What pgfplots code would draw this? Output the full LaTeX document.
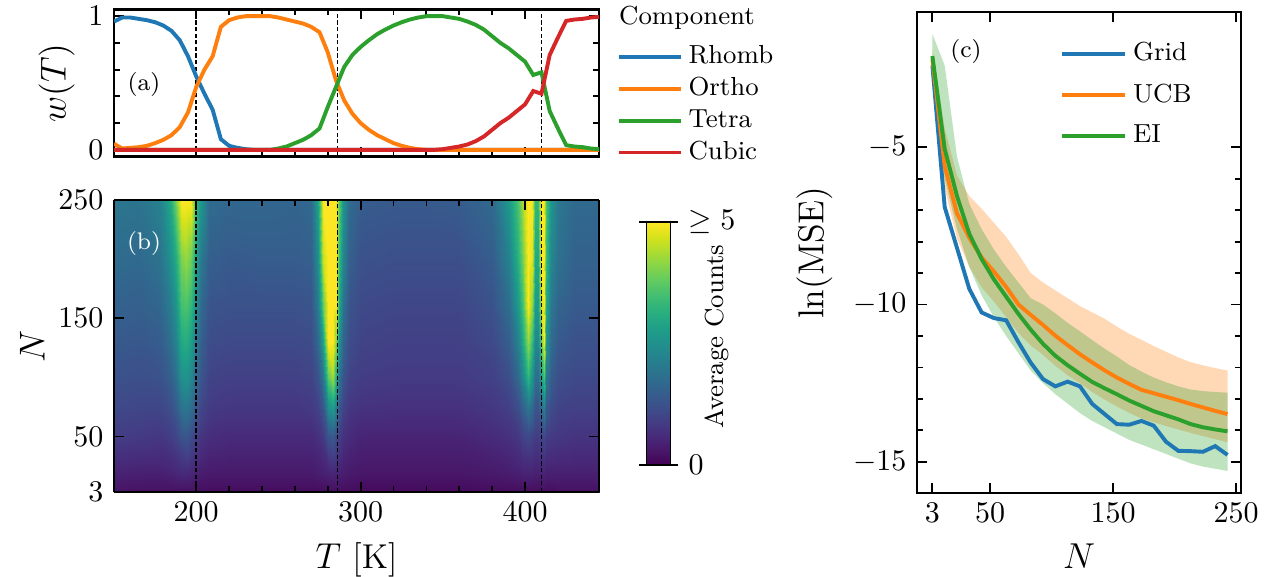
\documentclass[border=0pt]{standalone}
\usepackage{pgfplots}
\pgfplotsset{compat=1.18}
\usepackage{pgfplotstable}

\definecolor{tabblue}{HTML}{1F77B4}
\definecolor{taborange}{HTML}{FF7F0E}
\definecolor{tabgreen}{HTML}{2CA02C}
\definecolor{tabred}{HTML}{D62728}

% phase weights w(T)
\pgfplotstableread{
T rh or te cu
150 0.96 0.045 0 0
155 0.99 0.01 0 0
160 0.99 0.015 0 0
165 0.98 0.02 0 0
170 0.97 0.03 0 0
175 0.955 0.05 0 0
180 0.93 0.075 0 0
185 0.89 0.11 0 0
190 0.82 0.17 0 0
195 0.70 0.28 0 0
200 0.55 0.47 0 0
205 0.42 0.60 0 0
210 0.30 0.70 0 0
215 0.08 0.92 0 0
220 0.03 0.97 0 0
225 0.015 0.99 0 0
230 0.005 1.0 0 0
235 0 1.0 0 0
240 0 1.0 0 0
245 0 1.0 0 0
250 0 0.99 0.01 0
255 0 0.975 0.025 0
260 0 0.96 0.05 0
265 0 0.945 0.075 0
270 0 0.92 0.11 0
275 0 0.88 0.16 0
280 0 0.73 0.32 0
285 0 0.52 0.47 0
290 0 0.37 0.62 0
295 0 0.27 0.71 0
300 0 0.20 0.77 0
305 0 0.15 0.82 0
310 0 0.11 0.865 0
315 0 0.08 0.90 0
320 0 0.05 0.93 0
325 0 0.03 0.955 0
330 0 0.015 0.975 0
335 0 0.005 0.99 0
340 0 0 1.0 0
345 0 0 1.0 0
350 0 0 1.0 0.005
355 0 0 0.99 0.015
360 0 0 0.98 0.025
365 0 0 0.96 0.04
370 0 0 0.935 0.065
375 0 0 0.90 0.10
380 0 0 0.85 0.15
385 0 0 0.80 0.20
390 0 0 0.76 0.24
395 0 0 0.71 0.29
400 0 0 0.66 0.34
405 0 0 0.56 0.44
410 0 0 0.58 0.42
415 0 0 0.29 0.71
420 0 0 0.16 0.84
425 0 0 0.035 0.965
430 0 0 0.025 0.975
435 0 0 0.02 0.98
440 0 0 0.01 0.99
445 0 0 0.005 0.995
}\weights

% ln(MSE) vs N, means
\pgfplotstableread{
N grid ucb ei
3 -2.4 -2.2 -2.1
13 -6.9 -5.6 -5.05
23 -8.2 -7.1 -6.55
33 -9.5 -7.88 -7.75
43 -10.25 -8.5 -8.55
53 -10.43 -8.95 -9.2
63 -10.5 -9.44 -9.75
73 -11.2 -10.0 -10.3
83 -11.85 -10.33 -10.8
93 -12.37 -10.65 -11.25
103 -12.6 -10.99 -11.63
113 -12.45 -11.29 -11.93
123 -12.6 -11.58 -12.2
133 -13.16 -11.84 -12.46
143 -13.48 -12.09 -12.66
153 -13.8 -12.32 -12.85
163 -13.82 -12.52 -13.05
173 -13.7 -12.71 -13.22
183 -13.85 -12.82 -13.39
193 -14.36 -12.93 -13.52
203 -14.65 -13.04 -13.65
213 -14.66 -13.16 -13.8
223 -14.68 -13.27 -13.9
233 -14.5 -13.38 -13.97
243 -14.78 -13.48 -14.03
}\mse

% bands: upper edge forward, lower edge back
\pgfplotstableread{
N y
3 -1.9
13 -4.4
23 -5.9
33 -6.55
43 -6.95
53 -7.4
63 -7.85
73 -8.4
83 -9.0
93 -9.3
103 -9.55
113 -9.8
123 -10.05
133 -10.25
143 -10.45
153 -10.7
163 -10.93
173 -11.12
183 -11.32
193 -11.5
203 -11.68
213 -11.83
223 -11.93
233 -12.02
243 -12.1
243 -14.38
233 -14.28
223 -14.18
213 -14.08
203 -13.97
193 -13.86
183 -13.74
173 -13.62
163 -13.44
153 -13.24
143 -13.02
133 -12.78
123 -12.5
113 -12.25
103 -11.95
93 -11.6
83 -11.3
73 -10.9
63 -10.4
53 -9.9
43 -9.45
33 -8.8
23 -7.9
13 -6.3
3 -2.5
}\ucbband

\pgfplotstableread{
N y
3 -1.4
13 -2.4
23 -5.3
33 -6.8
43 -7.6
53 -8.25
63 -8.8
73 -9.3
83 -9.8
93 -10.0
103 -10.28
113 -10.58
123 -10.85
133 -11.13
143 -11.4
153 -11.65
163 -11.92
173 -12.13
183 -12.32
193 -12.47
203 -12.6
213 -12.7
223 -12.75
233 -12.78
243 -12.8
243 -15.29
233 -15.22
223 -15.15
213 -15.05
203 -14.9
193 -14.75
183 -14.6
173 -14.45
163 -14.3
153 -14.1
143 -13.9
133 -13.7
123 -13.45
113 -13.15
103 -12.85
93 -12.5
83 -12.1
73 -11.55
63 -11.0
53 -10.4
43 -9.7
33 -8.8
23 -7.6
13 -6.0
3 -2.6
}\eiband

\pgfplotsset{
  panel/.style={
    scale only axis,
    axis line style={line width=0.7pt},
    every tick/.style={black, line width=0.6pt},
    tick align=inside,
    major tick length=3.3pt,
    minor tick length=1.9pt,
    tick label style={font=\fontsize{10}{12}\selectfont},
    label style={font=\fontsize{11.5}{13}\selectfont},
    legend cell align=left,
  },
  dline/.style={black, line width=0.5pt, dash pattern=on 1.4pt off 0.8pt, forget plot},
}

\begin{document}
\begin{tikzpicture}
\useasboundingbox (0,0) rectangle (427pt,-192.33pt);

% (a) component weights
\begin{axis}[panel, at={(38pt,-3.17pt)}, anchor=north west,
  width=161.67pt, height=49pt,
  xmin=150, xmax=445, ymin=-0.05, ymax=1.05,
  xtick={200,300,400}, xticklabels={}, minor x tick num=4,
  ytick={0,1}, minor ytick={0.2,0.4,0.6,0.8},
  ylabel={$w(T)$}, ylabel shift=-2.3pt,
  legend style={draw=none, fill=none, at={(1.035,0.80)}, anchor=north west,
    font=\fontsize{8.7}{10}\selectfont, row sep=-0.9pt, inner sep=0pt},
  legend image code/.code={\draw[#1] (0pt,0pt) -- (20.7pt,0pt);},
]
\addplot[dline] coordinates {(200,-0.05) (200,1.05)};
\addplot[dline] coordinates {(286,-0.05) (286,1.05)};
\addplot[dline] coordinates {(410,-0.05) (410,1.05)};
\addplot[tabblue, line width=1.3pt] table[x=T,y=rh] {\weights};
\addlegendentry{Rhomb}
\addplot[taborange, line width=1.3pt] table[x=T,y=or] {\weights};
\addlegendentry{Ortho}
\addplot[tabgreen, line width=1.3pt] table[x=T,y=te] {\weights};
\addlegendentry{Tetra}
\addplot[tabred, line width=1.3pt] table[x=T,y=cu] {\weights};
\addlegendentry{Cubic}
\end{axis}

% (b) average counts heatmap
\begin{axis}[panel, at={(38pt,-66.67pt)}, anchor=north west,
  width=161.67pt, height=97.33pt,
  view={0}{90},
  xmin=150, xmax=445, ymin=3, ymax=250,
  xtick={200,300,400}, minor x tick num=4,
  ytick={3,50,150,250},
  xlabel={$T$ [K]}, ylabel={$N$}, ylabel shift=-2.3pt,
  axis on top,
  colormap/viridis,
  point meta min=0, point meta max=5,
  colorbar,
  colorbar style={
    scale only axis, width=8pt, height=81pt,
    at={(parent axis.east)}, anchor=west, xshift=7.3pt, yshift=0.8pt,
    ytick={0,5}, yticklabels={$0$,$\geq 5$},
    tick align=outside, major tick length=2.5pt,
    axis line style={line width=0.6pt},
    every tick/.style={black, line width=0.6pt},
    tick label style={font=\fontsize{10}{12}\selectfont},
    ylabel={Average Counts},
    ylabel style={font=\fontsize{8.7}{10}\selectfont,
      at={(axis description cs:2.92,0.53)}, anchor=center},
  },
]
\addplot3[surf, shader=interp, mesh/rows=9, mesh/ordering=y varies, point meta=z] coordinates {
(150,3,0.25) (150,20,0.5) (150,50,0.9) (150,75,1.1) (150,100,1.25) (150,130,1.4) (150,160,1.55) (150,200,1.75) (150,250,1.95)
(165,3,0.2) (165,20,0.45) (165,50,0.85) (165,75,1.05) (165,100,1.2) (165,130,1.35) (165,160,1.5) (165,200,1.7) (165,250,1.9)
(178,3,0.2) (178,20,0.45) (178,50,0.8) (178,75,1.05) (178,100,1.25) (178,130,1.45) (178,160,1.65) (178,200,1.9) (178,250,2.2)
(184,3,0.2) (184,20,0.5) (184,50,0.9) (184,75,1.2) (184,100,1.5) (184,130,1.8) (184,160,2.1) (184,200,2.5) (184,250,3.0)
(188,3,0.2) (188,20,0.55) (188,50,1.05) (188,75,1.45) (188,100,1.85) (188,130,2.25) (188,160,2.6) (188,200,3.1) (188,250,4.0)
(191,3,0.2) (191,20,0.6) (191,50,1.25) (191,75,1.9) (191,100,2.5) (191,130,3.0) (191,160,3.5) (191,200,4.0) (191,250,5)
(194,3,0.2) (194,20,0.6) (194,50,1.35) (194,75,2.0) (194,100,2.6) (194,130,3.1) (194,160,3.6) (194,200,4.2) (194,250,5)
(197,3,0.2) (197,20,0.55) (197,50,1.15) (197,75,1.8) (197,100,2.3) (197,130,2.8) (197,160,3.3) (197,200,3.9) (197,250,5)
(200,3,0.15) (200,20,0.45) (200,50,0.9) (200,75,1.3) (200,100,1.65) (200,130,2.0) (200,160,2.4) (200,200,2.8) (200,250,3.4)
(203,3,0.15) (203,20,0.4) (203,50,0.75) (203,75,1.05) (203,100,1.3) (203,130,1.5) (203,160,1.7) (203,200,2.0) (203,250,2.6)
(208,3,0.15) (208,20,0.35) (208,50,0.65) (208,75,0.85) (208,100,1.0) (208,130,1.15) (208,160,1.3) (208,200,1.5) (208,250,1.75)
(220,3,0.15) (220,20,0.35) (220,50,0.6) (220,75,0.8) (220,100,0.95) (220,130,1.1) (220,160,1.25) (220,200,1.4) (220,250,1.65)
(240,3,0.15) (240,20,0.35) (240,50,0.6) (240,75,0.8) (240,100,0.95) (240,130,1.1) (240,160,1.25) (240,200,1.45) (240,250,1.65)
(260,3,0.15) (260,20,0.35) (260,50,0.6) (260,75,0.8) (260,100,0.95) (260,130,1.1) (260,160,1.25) (260,200,1.45) (260,250,1.6)
(270,3,0.15) (270,20,0.35) (270,50,0.6) (270,75,0.85) (270,100,1.0) (270,130,1.15) (270,160,1.3) (270,200,1.5) (270,250,1.7)
(274,3,0.15) (274,20,0.4) (274,50,0.7) (274,75,1.0) (274,100,1.3) (274,130,1.7) (274,160,2.1) (274,200,2.5) (274,250,2.9)
(277,3,0.15) (277,20,0.45) (277,50,0.85) (277,75,1.35) (277,100,2.0) (277,130,2.9) (277,160,3.8) (277,200,4.6) (277,250,5)
(280,3,0.15) (280,20,0.5) (280,50,1.3) (280,75,2.5) (280,100,3.8) (280,130,5) (280,160,5) (280,200,5) (280,250,5)
(283,3,0.15) (283,20,0.55) (283,50,1.4) (283,75,2.8) (283,100,4.3) (283,130,5) (283,160,5) (283,200,5) (283,250,5)
(285,3,0.15) (285,20,0.5) (285,50,1.1) (285,75,2.1) (285,100,3.1) (285,130,4.1) (285,160,5) (285,200,5) (285,250,5)
(287,3,0.15) (287,20,0.45) (287,50,0.9) (287,75,1.35) (287,100,1.9) (287,130,2.5) (287,160,3.0) (287,200,3.4) (287,250,3.8)
(289,3,0.15) (289,20,0.4) (289,50,0.7) (289,75,1.0) (289,100,1.3) (289,130,1.6) (289,160,1.9) (289,200,2.3) (289,250,2.6)
(293,3,0.15) (293,20,0.35) (293,50,0.6) (293,75,0.8) (293,100,1.0) (293,130,1.15) (293,160,1.3) (293,200,1.5) (293,250,1.75)
(300,3,0.12) (300,20,0.3) (300,50,0.5) (300,75,0.72) (300,100,0.88) (300,130,1.0) (300,160,1.1) (300,200,1.25) (300,250,1.45)
(320,3,0.12) (320,20,0.3) (320,50,0.5) (320,75,0.7) (320,100,0.85) (320,130,0.95) (320,160,1.05) (320,200,1.2) (320,250,1.4)
(340,3,0.12) (340,20,0.3) (340,50,0.5) (340,75,0.7) (340,100,0.85) (340,130,0.95) (340,160,1.05) (340,200,1.2) (340,250,1.4)
(360,3,0.12) (360,20,0.3) (360,50,0.5) (360,75,0.7) (360,100,0.85) (360,130,0.95) (360,160,1.05) (360,200,1.2) (360,250,1.45)
(380,3,0.15) (380,20,0.35) (380,50,0.6) (380,75,0.8) (380,100,0.95) (380,130,1.1) (380,160,1.25) (380,200,1.45) (380,250,1.7)
(390,3,0.15) (390,20,0.4) (390,50,0.7) (390,75,0.95) (390,100,1.2) (390,130,1.5) (390,160,1.8) (390,200,2.2) (390,250,2.7)
(396,3,0.15) (396,20,0.45) (396,50,0.8) (396,75,1.2) (396,100,1.7) (396,130,2.2) (396,160,2.7) (396,200,3.2) (396,250,3.6)
(399,3,0.15) (399,20,0.5) (399,50,1.0) (399,75,1.6) (399,100,2.4) (399,130,3.1) (399,160,3.6) (399,200,4.0) (399,250,4.4)
(402,3,0.15) (402,20,0.5) (402,50,1.1) (402,75,2.0) (402,100,3.3) (402,130,4.2) (402,160,5) (402,200,5) (402,250,5)
(404,3,0.15) (404,20,0.5) (404,50,1.0) (404,75,1.7) (404,100,2.6) (404,130,3.4) (404,160,4.2) (404,200,4.8) (404,250,5)
(406,3,0.15) (406,20,0.45) (406,50,0.9) (406,75,1.3) (406,100,1.8) (406,130,2.3) (406,160,2.7) (406,200,3.0) (406,250,3.3)
(408,3,0.15) (408,20,0.45) (408,50,0.9) (408,75,1.3) (408,100,1.8) (408,130,2.3) (408,160,2.7) (408,200,3.0) (408,250,3.3)
(410,3,0.15) (410,20,0.5) (410,50,1.0) (410,75,1.8) (410,100,2.8) (410,130,3.8) (410,160,4.6) (410,200,5) (410,250,5)
(411.5,3,0.15) (411.5,20,0.5) (411.5,50,1.1) (411.5,75,2.2) (411.5,100,3.6) (411.5,130,5) (411.5,160,5) (411.5,200,5) (411.5,250,5)
(413,3,0.15) (413,20,0.45) (413,50,0.9) (413,75,1.4) (413,100,2.0) (413,130,2.6) (413,160,3.0) (413,200,3.4) (413,250,3.6)
(416,3,0.15) (416,20,0.45) (416,50,0.85) (416,75,1.15) (416,100,1.45) (416,130,1.75) (416,160,2.0) (416,200,2.3) (416,250,2.6)
(420,3,0.2) (420,20,0.45) (420,50,0.8) (420,75,1.0) (420,100,1.2) (420,130,1.4) (420,160,1.6) (420,200,1.85) (420,250,2.0)
(430,3,0.2) (430,20,0.45) (430,50,0.75) (430,75,0.95) (430,100,1.1) (430,130,1.25) (430,160,1.4) (430,200,1.55) (430,250,1.7)
(445,3,0.2) (445,20,0.45) (445,50,0.75) (445,75,0.95) (445,100,1.1) (445,130,1.25) (445,160,1.4) (445,200,1.55) (445,250,1.7)
};
\addplot3[dline] coordinates {(200,3,5) (200,250,5)};
\addplot3[dline] coordinates {(286,3,5) (286,250,5)};
\addplot3[dline] coordinates {(410,3,5) (410,250,5)};
\end{axis}

% (c) ln(MSE) vs N
\begin{axis}[panel, at={(305.67pt,-4pt)}, anchor=north west,
  width=108pt, height=160.33pt,
  xmin=-9.5, xmax=254, ymin=-15.99, ymax=-0.7,
  xtick={3,50,150,250}, ytick={-5,-10,-15}, minor y tick num=4,
  xlabel={$N$}, ylabel={$\ln(\mathrm{MSE})$},
  legend style={draw=none, fill=none, at={(0.44,0.951)}, anchor=north west,
    font=\fontsize{8.7}{10}\selectfont, row sep=2.2pt, inner sep=0pt},
  legend image code/.code={\draw[#1] (0pt,0pt) -- (21pt,0pt);},
]
\addplot[fill=taborange, fill opacity=0.3, draw=none, forget plot] table[x=N,y=y] {\ucbband} -- cycle;
\addplot[fill=tabgreen, fill opacity=0.3, draw=none, forget plot] table[x=N,y=y] {\eiband} -- cycle;
\addplot[tabblue, line width=1.3pt] table[x=N,y=grid] {\mse};
\addlegendentry{Grid}
\addplot[taborange, line width=1.3pt] table[x=N,y=ucb] {\mse};
\addlegendentry{UCB}
\addplot[tabgreen, line width=1.3pt] table[x=N,y=ei] {\mse};
\addlegendentry{EI}
\end{axis}

\node[font=\fontsize{8.7}{10}\selectfont] at (229pt,-6pt) {Component};
\node[font=\fontsize{8}{9}\selectfont] at (48pt,-28.3pt) {(a)};
\node[font=\fontsize{8}{9}\selectfont, text=white] at (48pt,-81pt) {(b)};
\node[font=\fontsize{8}{9}\selectfont] at (322pt,-17.3pt) {(c)};
\end{tikzpicture}
\end{document}
